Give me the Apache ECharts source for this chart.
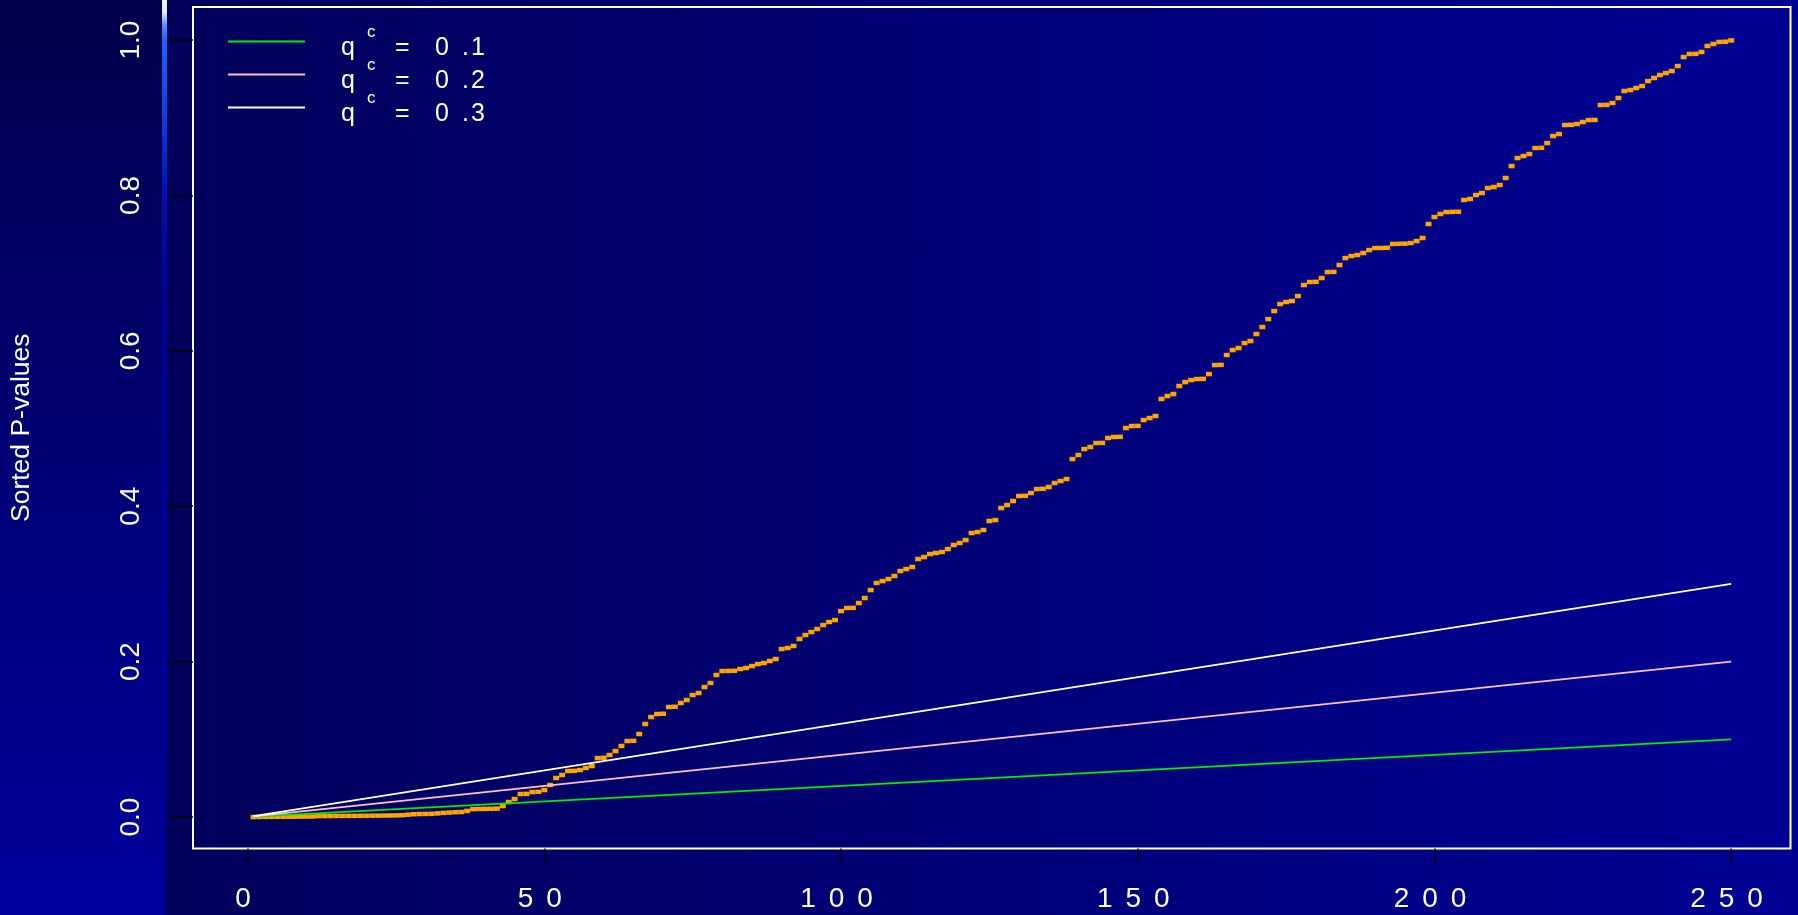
<!DOCTYPE html>
<html>
<head>
<meta charset="utf-8">
<script src="https://cdn.jsdelivr.net/npm/echarts@6/dist/echarts.min.js"></script>
<style>
html, body { margin: 0; padding: 0; }
#chart {
  width: 1798px; height: 915px;
  background:
    linear-gradient(to bottom, #f6f6f6 0px, #dfe6fb 13px, #5f92ff 24px, #1c62ff 40px, #0c44e6 110px, #0010b4 190px, #00009a 300px, #000094 915px) 162px 0 / 5px 100% no-repeat,
    linear-gradient(to bottom, #00004c, #00009e) 0 0 / 162px 100% no-repeat,
    linear-gradient(to right, #00005b, #000094) 167px 0 / 1631px 100% no-repeat;
}
</style>
</head>
<body>
<div id="chart"></div>
<script>
// sorted p-values, rank 1..250
const pValues = [
  0.0000, 0.0001, 0.0001, 0.0002, 0.0002, 0.0003, 0.0003, 0.0004, 0.0005, 0.0006,
  0.0007, 0.0012, 0.0013, 0.0013, 0.0014, 0.0014, 0.0015, 0.0015, 0.0016, 0.0016,
  0.0017, 0.0018, 0.0019, 0.0020, 0.0021, 0.0024, 0.0030, 0.0036, 0.0039, 0.0040,
  0.0041, 0.0047, 0.0053, 0.0058, 0.0062, 0.0065, 0.0079, 0.0101, 0.0103, 0.0105,
  0.0106, 0.0108, 0.0142, 0.0193, 0.0232, 0.0296, 0.0298, 0.0322, 0.0324, 0.0347,
  0.0412, 0.0502, 0.0541, 0.0592, 0.0594, 0.0605, 0.0631, 0.0656, 0.0759, 0.0762,
  0.0798, 0.0849, 0.0914, 0.0978, 0.0981, 0.1068, 0.1197, 0.1287, 0.1326, 0.1329,
  0.1416, 0.1419, 0.1467, 0.1506, 0.1570, 0.1596, 0.1673, 0.1725, 0.1828, 0.1879,
  0.1880, 0.1882, 0.1905, 0.1918, 0.1943, 0.1969, 0.1982, 0.2008, 0.2033, 0.2162,
  0.2175, 0.2201, 0.2291, 0.2342, 0.2381, 0.2420, 0.2471, 0.2510, 0.2535, 0.2651,
  0.2690, 0.2692, 0.2754, 0.2819, 0.2921, 0.3012, 0.3037, 0.3063, 0.3102, 0.3166,
  0.3192, 0.3218, 0.3320, 0.3346, 0.3385, 0.3398, 0.3411, 0.3449, 0.3501, 0.3526,
  0.3565, 0.3655, 0.3668, 0.3694, 0.3810, 0.3822, 0.3977, 0.4015, 0.4067, 0.4131,
  0.4134, 0.4170, 0.4221, 0.4224, 0.4247, 0.4299, 0.4324, 0.4350, 0.4607, 0.4659,
  0.4736, 0.4762, 0.4813, 0.4815, 0.4878, 0.4891, 0.4893, 0.5006, 0.5032, 0.5034,
  0.5109, 0.5135, 0.5161, 0.5380, 0.5418, 0.5444, 0.5547, 0.5598, 0.5624, 0.5637,
  0.5639, 0.5701, 0.5817, 0.5819, 0.5946, 0.6010, 0.6036, 0.6100, 0.6126, 0.6216,
  0.6306, 0.6409, 0.6512, 0.6602, 0.6628, 0.6641, 0.6705, 0.6847, 0.6886, 0.6888,
  0.6937, 0.7014, 0.7016, 0.7104, 0.7194, 0.7220, 0.7233, 0.7259, 0.7297, 0.7323,
  0.7324, 0.7326, 0.7375, 0.7377, 0.7379, 0.7387, 0.7413, 0.7452, 0.7632, 0.7722,
  0.7761, 0.7786, 0.7788, 0.7790, 0.7941, 0.7954, 0.8005, 0.8031, 0.8095, 0.8108,
  0.8134, 0.8224, 0.8378, 0.8481, 0.8507, 0.8533, 0.8610, 0.8612, 0.8674, 0.8764,
  0.8790, 0.8906, 0.8908, 0.8919, 0.8945, 0.8970, 0.8972, 0.9163, 0.9165, 0.9189,
  0.9254, 0.9344, 0.9357, 0.9382, 0.9408, 0.9472, 0.9511, 0.9550, 0.9575, 0.9601,
  0.9665, 0.9781, 0.9820, 0.9822, 0.9846, 0.9923, 0.9949, 0.9975, 0.9978, 0.9995
];
const qLevels = [0.1, 0.2, 0.3];
const qColors = ['#00ee00', '#ffc0cb', '#ffffff'];
const xTicks = [0, 50, 100, 150, 200, 250];
const yTicks = [0, 0.2, 0.4, 0.6, 0.8, 1.0];

const nTests = pValues.length;
const tickFont = "'Liberation Sans Narrow', 'Liberation Sans', Arial, sans-serif";
const textFont = "'Liberation Sans', Arial, sans-serif";

const chart = echarts.init(document.getElementById('chart'), null, {renderer: 'canvas'});

const points = pValues.map((p, i) => [i + 1, p]);

// BH reference lines  y = q * i / m
const qSeries = qLevels.map((q, k) => ({
  name: 'q' + k,
  type: 'line',
  data: [[1, q / nTests], [nTests, q]],
  symbol: 'none',
  silent: true,
  z: 4,
  lineStyle: {color: qColors[k], width: 1.8}
}));

// x labels are drawn with wide spaced digits, like the original
function spacedDigits(v) {
  return String(v).split('').map(ch => '{d|' + ch + '}').join('');
}

// legend drawn by hand: R's plotmath q^c needs a raised c
function legendItem(q, k) {
  const y = 41.5 + 33 * k;
  const d = String(q).split('.');
  const txt = (s, x, dy, size) => ({
    type: 'text', x: x, y: y + dy, silent: true,
    style: {text: s, fill: '#fff', fontSize: size, fontFamily: textFont, align: 'left', verticalAlign: 'middle'}
  });
  return {
    type: 'group',
    children: [
      {type: 'line', silent: true, shape: {x1: 228, y1: y, x2: 305, y2: y}, style: {stroke: qColors[k], lineWidth: 1.8}},
      txt('q', 341, 6.5, 25),
      txt('c', 367, -9.5, 17),
      txt('=', 395, 6.5, 25),
      txt(d[0], 435, 6.5, 25),
      txt('.', 462, 6.5, 25),
      txt(d[1], 471, 6.5, 25)
    ]
  };
}

chart.setOption({
  animation: false,
  backgroundColor: 'transparent',
  grid: {
    left: 190, right: 7.5, top: 7, bottom: 66.5,
    show: true, borderColor: '#ffffff', borderWidth: 2, backgroundColor: 'transparent'
  },
  graphic: qLevels.map(legendItem),
  xAxis: {
    type: 'value',
    min: -9.2, max: 260,
    axisLine: {show: false, onZero: false},
    splitLine: {show: false},
    axisTick: {show: true, customValues: xTicks, length: 15, lineStyle: {color: '#000', width: 1.5}},
    axisLabel: {
      customValues: xTicks,
      formatter: spacedDigits,
      margin: 37,
      padding: [0, 9, 0, 0],
      rich: {
        d: {color: '#fff', fontSize: 28, fontFamily: tickFont, width: 28.5, align: 'center'}
      }
    }
  },
  yAxis: {
    type: 'value',
    min: -0.0405, max: 1.0425,
    name: 'Sorted P-values',
    nameLocation: 'middle', nameRotate: 90, nameGap: 158,
    nameTextStyle: {color: '#fff', fontSize: 26.5, fontFamily: textFont},
    axisLine: {show: false, onZero: false},
    splitLine: {show: false},
    axisTick: {show: true, customValues: yTicks, length: 26, lineStyle: {color: '#000', width: 1.5}},
    axisLabel: {
      customValues: yTicks,
      formatter: v => v.toFixed(1),
      rotate: 90,
      color: '#fff', fontSize: 28, fontFamily: tickFont, margin: 47.5
    }
  },
  series: [{
    name: 'p',
    type: 'scatter',
    data: points,
    symbol: 'rect',
    symbolSize: [6, 4.5],
    silent: true,
    z: 3,
    itemStyle: {color: '#ffa500', opacity: 1}
  }].concat(qSeries)
});
</script>
</body>
</html>
